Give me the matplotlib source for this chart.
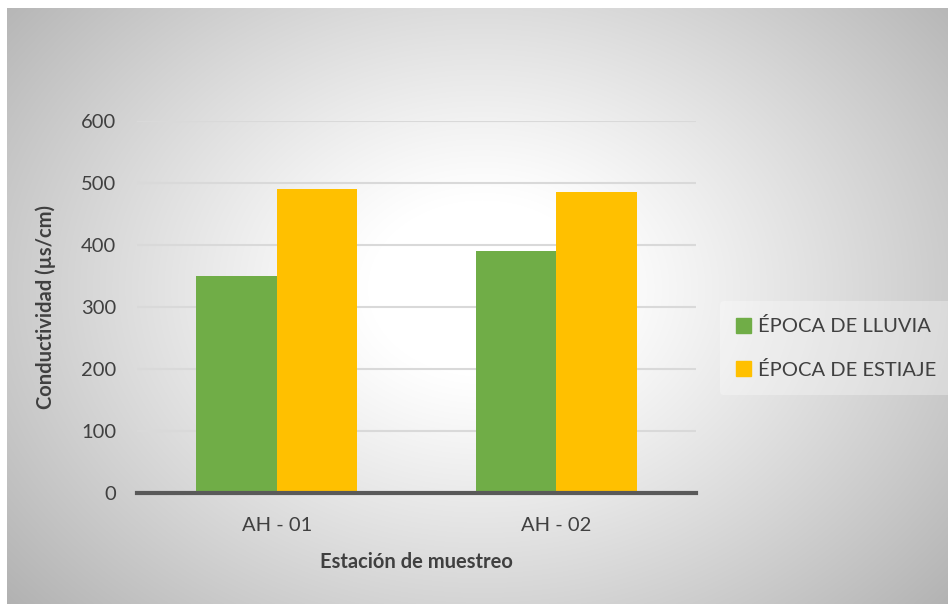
import numpy as np
import matplotlib
matplotlib.use('Agg')
import matplotlib.pyplot as plt
from matplotlib.patches import Patch

plt.rcParams['font.family'] = ['Lato', 'DejaVu Sans']

# datos de conductividad por estación
estaciones = ['AH - 01', 'AH - 02']
lluvia = [350, 390]
estiaje = [490, 485]
series = ['ÉPOCA DE LLUVIA', 'ÉPOCA DE ESTIAJE']
colores = ['#70AD47', '#FFC000']
yticks = [0, 100, 200, 300, 400, 500, 600]

fig = plt.figure(figsize=(9.5, 6.04), dpi=100)
fig.patch.set_facecolor('white')

# fondo con degradado radial
bg = fig.add_axes([7/950, 0, 941/950, 1 - 8/604], zorder=0)
h, w = 596, 941
yy, xx = np.mgrid[0:h, 0:w]
r = np.sqrt(((xx - 475) / 520.0) ** 2 + ((yy - 280) / 400.0) ** 2)
g = 255 - 70 * np.clip((r - 0.22) / 0.9, 0, 1.2) ** 1.1
g = np.clip(g, 0, 255) / 255.0
img = np.dstack([g, g, g])
bg.imshow(img, aspect='auto', interpolation='bilinear')
bg.axis('off')

ax = fig.add_axes([137/950, 1 - 493/604, (696 - 137)/950, (493 - 121)/604], zorder=1)
ax.patch.set_alpha(0)

x = np.arange(len(estaciones))
ancho = 0.288
ax.bar(x - ancho/2, lluvia, ancho, color=colores[0], zorder=3)
ax.bar(x + ancho/2, estiaje, ancho, color=colores[1], zorder=3)

ax.set_xlim(-0.5, 1.5)
ax.set_ylim(0, 600)
ax.set_yticks(yticks)
ax.set_xticks(x)
ax.set_xticklabels(estaciones)
ax.yaxis.grid(True, color='#d9d9d9', linewidth=1.5, zorder=0)
ax.set_axisbelow(True)
for s in ['top', 'right', 'left']:
    ax.spines[s].set_visible(False)
ax.spines['bottom'].set_color('#595959')
ax.spines['bottom'].set_linewidth(3)
ax.spines['bottom'].set_zorder(4)
ax.tick_params(axis='both', length=0, labelsize=14.5, colors='#404040')
ax.tick_params(axis='y', pad=15)
ax.tick_params(axis='x', pad=17)

ax.set_ylabel('Conductividad (µs/cm)', fontsize=14.5, fontweight='bold', color='#404040', labelpad=18)
ax.set_xlabel('Estación de muestreo', fontsize=14.5, fontweight='bold', color='#404040', labelpad=13)

handles = [Patch(color=c) for c in colores]
leg = ax.legend(handles, series, loc='center left', bbox_to_anchor=(1.025, 0.39),
                frameon=True, fontsize=14.5, handlelength=0.75, handleheight=0.75,
                handletextpad=0.35, labelspacing=1.25, borderpad=0.8)
leg.get_frame().set_facecolor('white')
leg.get_frame().set_alpha(0.3)
leg.get_frame().set_edgecolor('none')
for t in leg.get_texts():
    t.set_color('#404040')

fig.savefig('out.png', dpi=100)
